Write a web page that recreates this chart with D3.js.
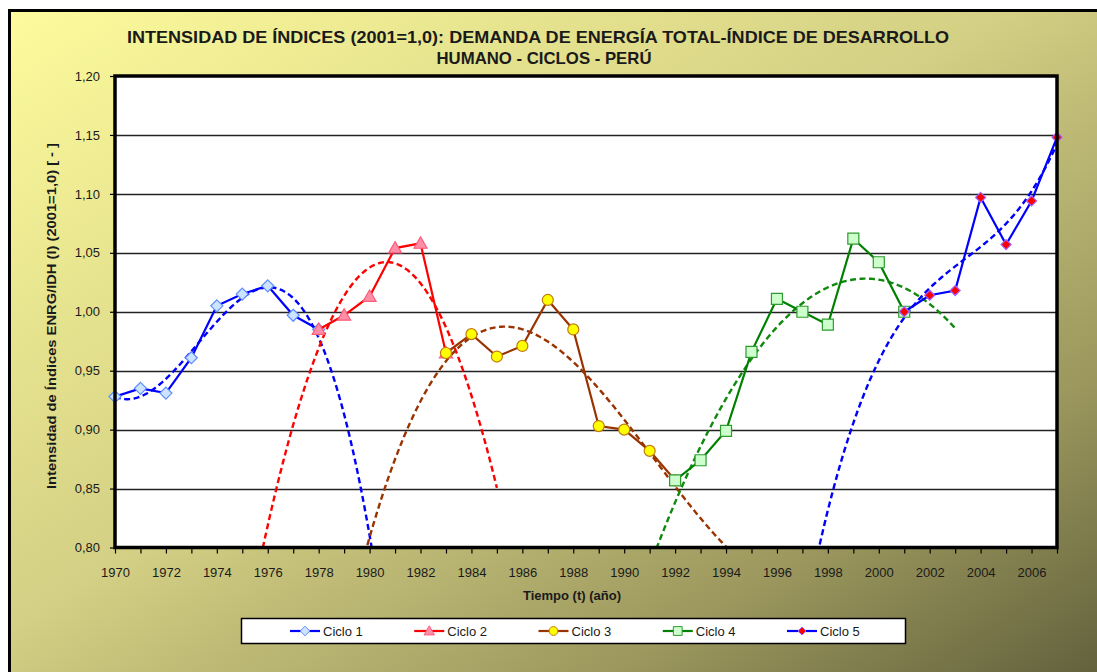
<!DOCTYPE html>
<html>
<head>
<meta charset="utf-8">
<script src="https://cdn.jsdelivr.net/npm/d3@7"></script>
<style>
  body { margin: 0; background: #fff; }
  svg { display: block; }
  text { font-family: "Liberation Sans", Arial, sans-serif; fill: #1a1a1a; }
</style>
</head>
<body>
<svg id="chart" width="1097" height="672"></svg>
<script>
// ---- data ----
const titleLines = [
  'INTENSIDAD DE ÍNDICES (2001=1,0): DEMANDA DE ENERGÍA TOTAL-ÍNDICE DE DESARROLLO',
  'HUMANO - CICLOS - PERÚ'
];
const yTitle = 'Intensidad de Índices ENRG/IDH (I) (2001=1,0) [ - ]';
const xTitle = 'Tiempo (t) (año)';

const cycleNames = ['Ciclo 1', 'Ciclo 2', 'Ciclo 3', 'Ciclo 4', 'Ciclo 5'];

const ciclo1Years = [1970, 1971, 1972, 1973, 1974, 1975, 1976, 1977, 1978];
const ciclo1Values = [0.928, 0.935, 0.931, 0.961, 1.005, 1.015, 1.022, 0.997, 0.985];

const ciclo2Years = [1978, 1979, 1980, 1981, 1982, 1983];
const ciclo2Values = [0.985, 0.997, 1.013, 1.054, 1.058, 0.965];

const ciclo3Years = [1983, 1984, 1985, 1986, 1987, 1988, 1989, 1990, 1991, 1992];
const ciclo3Values = [0.965, 0.981, 0.962, 0.971, 1.010, 0.985, 0.903, 0.900, 0.882, 0.857];

const ciclo4Years = [1992, 1993, 1994, 1995, 1996, 1997, 1998, 1999, 2000, 2001];
const ciclo4Values = [0.857, 0.874, 0.899, 0.966, 1.011, 1.000, 0.989, 1.062, 1.042, 1.000];

const ciclo5Years = [2001, 2002, 2003, 2004, 2005, 2006, 2007];
const ciclo5Values = [1.000, 1.014, 1.018, 1.097, 1.057, 1.094, 1.148];

// polynomial trendlines (order, backward/forward extent in years)
const trendOrders = [3, 2, 3, 2, 3];
const trendFrom = [1970, 1975, 1979, 1990, 1997];
const trendTo = [1981, 1985, 1994, 2003, 2008];

const yTicks = [0.80, 0.85, 0.90, 0.95, 1.00, 1.05, 1.10, 1.15, 1.20];
const xTicks = d3.range(1970, 2008);

// ---- styles ----
const LINE_COLORS = ['#0000ff', '#ff0000', '#993300', '#008000', '#0000ff'];
const TREND_COLORS = ['#0000ff', '#ff0000', '#993300', '#0f8a0f', '#0000ff'];
const MARK_FILL = ['#cce4ff', '#ff8fa8', '#ffff00', '#ccffcc', '#ff0000'];
const MARK_STROKE = ['#5c8cff', '#ff5a78', '#c07a10', '#2f9a2f', '#a060ff'];
const MARK_SHAPE = ['diamond', 'triangle', 'circle', 'square', 'diamond'];
const MARK_SIZE = [6, 6.5, 5.5, 5.5, 5];

const series = cycleNames.map((name, i) => {
  const ys = [ciclo1Years, ciclo2Years, ciclo3Years, ciclo4Years, ciclo5Years][i];
  const vs = [ciclo1Values, ciclo2Values, ciclo3Values, ciclo4Values, ciclo5Values][i];
  return { name, idx: i, points: ys.map((y, j) => ({ year: y, value: vs[j] })) };
});

const svg = d3.select('#chart');
const defs = svg.append('defs');

const grad = defs.append('linearGradient')
  .attr('id', 'bg')
  .attr('x1', 0).attr('y1', 0).attr('x2', 1).attr('y2', 1);
grad.append('stop').attr('offset', '0').attr('stop-color', '#fdfb9c');
grad.append('stop').attr('offset', '0.45').attr('stop-color', '#d3cf84');
grad.append('stop').attr('offset', '0.75').attr('stop-color', '#9c985e');
grad.append('stop').attr('offset', '1').attr('stop-color', '#5b5a38');

// outer chart area
svg.append('rect')
  .attr('x', 9.5).attr('y', 10.5)
  .attr('width', 1110).attr('height', 690)
  .attr('fill', 'url(#bg)')
  .attr('stroke', '#000')
  .attr('stroke-width', 3);

const plotLeft = 115, plotRight = 1057, plotTop = 76, plotBottom = 547.5;

const x = d3.scaleLinear().domain([1970, 2007]).range([plotLeft, plotRight]);
const y = d3.scaleLinear().domain([0.80, 1.20]).range([plotBottom, plotTop]);

defs.append('clipPath').attr('id', 'plotClip')
  .append('rect')
  .attr('x', plotLeft).attr('y', plotTop)
  .attr('width', plotRight - plotLeft).attr('height', plotBottom - plotTop);

// plot background
svg.append('rect')
  .attr('x', plotLeft).attr('y', plotTop)
  .attr('width', plotRight - plotLeft).attr('height', plotBottom - plotTop)
  .attr('fill', '#fff');

// gridlines
svg.append('g')
  .selectAll('line')
  .data(yTicks.slice(1, -1))
  .enter()
  .append('line')
  .attr('x1', plotLeft).attr('x2', plotRight)
  .attr('y1', d => Math.round(y(d)) + 0.5)
  .attr('y2', d => Math.round(y(d)) + 0.5)
  .attr('stroke', '#222')
  .attr('stroke-width', 1.3);

// axes
const fmt = d => d3.format('.2f')(d).replace('.', ',');

const yAxis = svg.append('g')
  .attr('transform', `translate(${plotLeft},0)`)
  .call(d3.axisLeft(y).tickValues(yTicks).tickSize(5).tickPadding(10).tickFormat(fmt));
yAxis.select('.domain').remove();
yAxis.selectAll('.tick line').attr('stroke', '#000').attr('stroke-width', 1.2);
yAxis.selectAll('.tick text')
  .attr('font-size', 13).attr('fill', '#1a1a1a')
  .attr('font-family', '"Liberation Sans", Arial, sans-serif');

const xAxis = svg.append('g')
  .attr('transform', `translate(0,${plotBottom})`)
  .call(d3.axisBottom(x).tickValues(xTicks).tickSize(6).tickPadding(14)
    .tickFormat(d => d % 2 === 0 ? String(d) : ''));
xAxis.select('.domain').remove();
xAxis.selectAll('.tick line').attr('stroke', '#000').attr('stroke-width', 1.2);
xAxis.selectAll('.tick text')
  .attr('font-size', 13).attr('fill', '#1a1a1a')
  .attr('font-family', '"Liberation Sans", Arial, sans-serif');

// least squares polynomial fit (x centred for conditioning)
function polyfit(points, order) {
  const x0 = d3.mean(points, p => p.year);
  const n = order + 1;
  const A = d3.range(n).map(() => new Array(n).fill(0));
  const b = new Array(n).fill(0);
  points.forEach(p => {
    const t = p.year - x0;
    for (let r = 0; r < n; r++) {
      b[r] += p.value * Math.pow(t, r);
      for (let c = 0; c < n; c++) A[r][c] += Math.pow(t, r + c);
    }
  });
  for (let k = 0; k < n; k++) {
    for (let r = k + 1; r < n; r++) {
      const f = A[r][k] / A[k][k];
      for (let c = k; c < n; c++) A[r][c] -= f * A[k][c];
      b[r] -= f * b[k];
    }
  }
  const coef = new Array(n).fill(0);
  for (let r = n - 1; r >= 0; r--) {
    let s = b[r];
    for (let c = r + 1; c < n; c++) s -= A[r][c] * coef[c];
    coef[r] = s / A[r][r];
  }
  return t => coef.reduce((acc, a, k) => acc + a * Math.pow(t - x0, k), 0);
}

const line = d3.line().x(d => x(d.year)).y(d => y(d.value));
const trendLine = d3.line().x(d => x(d[0])).y(d => y(d[1]));

function markerPath(shape, s) {
  if (shape === 'diamond') return `M0,${-s}L${s},0L0,${s}L${-s},0Z`;
  if (shape === 'triangle') return `M0,${-s}L${s},${s * 0.75}L${-s},${s * 0.75}Z`;
  if (shape === 'square') return `M${-s},${-s}H${s}V${s}H${-s}Z`;
  return d3.symbol(d3.symbolCircle, Math.PI * s * s)();
}

const plot = svg.append('g');
const trends = plot.append('g').attr('clip-path', 'url(#plotClip)');

series.forEach(s => {
  const i = s.idx;
  const f = polyfit(s.points, trendOrders[i]);
  const samples = d3.range(trendFrom[i], trendTo[i] + 1e-6, 0.05).map(t => [t, f(t)]);
  trends.append('path')
    .attr('d', trendLine(samples))
    .attr('fill', 'none')
    .attr('stroke', TREND_COLORS[i])
    .attr('stroke-width', 2.4)
    .attr('stroke-dasharray', '6,3.5');
});

series.forEach(s => {
  const i = s.idx;
  const g = plot.append('g');
  g.append('path')
    .attr('d', line(s.points))
    .attr('fill', 'none')
    .attr('stroke', LINE_COLORS[i])
    .attr('stroke-width', 2.2);
  g.selectAll('.mark')
    .data(s.points)
    .enter()
    .append('path')
    .attr('class', 'mark')
    .attr('transform', d => `translate(${x(d.year)},${y(d.value)})`)
    .attr('d', markerPath(MARK_SHAPE[i], MARK_SIZE[i]))
    .attr('fill', MARK_FILL[i])
    .attr('stroke', MARK_STROKE[i])
    .attr('stroke-width', 1.2);
});

// plot border
svg.append('rect')
  .attr('x', plotLeft).attr('y', plotTop)
  .attr('width', plotRight - plotLeft).attr('height', plotBottom - plotTop)
  .attr('fill', 'none')
  .attr('stroke', '#000')
  .attr('stroke-width', 3.5);

// titles
const title = svg.append('g');
title.append('text')
  .attr('x', 538).attr('y', 43)
  .attr('text-anchor', 'middle')
  .attr('font-size', 17).attr('font-weight', 'bold')
  .attr('textLength', 822).attr('lengthAdjust', 'spacingAndGlyphs')
  .text(titleLines[0]);
title.append('text')
  .attr('x', 544).attr('y', 64)
  .attr('text-anchor', 'middle')
  .attr('font-size', 17).attr('font-weight', 'bold')
  .attr('textLength', 215).attr('lengthAdjust', 'spacingAndGlyphs')
  .text(titleLines[1]);

svg.append('text')
  .attr('transform', 'translate(56,316) rotate(-90)')
  .attr('text-anchor', 'middle')
  .attr('font-size', 12.5).attr('font-weight', 'bold')
  .attr('textLength', 346).attr('lengthAdjust', 'spacingAndGlyphs')
  .text(yTitle);

svg.append('text')
  .attr('x', 572).attr('y', 600)
  .attr('text-anchor', 'middle')
  .attr('font-size', 13).attr('font-weight', 'bold')
  .text(xTitle);

// legend
const legend = svg.append('g');
legend.append('rect')
  .attr('x', 241.5).attr('y', 618.5)
  .attr('width', 664).attr('height', 25)
  .attr('fill', '#fff')
  .attr('stroke', '#000')
  .attr('stroke-width', 1.5);

const legendX = d3.scalePoint().domain(cycleNames).range([290, 787]);
const item = legend.selectAll('.item')
  .data(series)
  .enter()
  .append('g')
  .attr('class', 'item')
  .attr('transform', d => `translate(${legendX(d.name)},631)`);
item.append('line')
  .attr('x1', 0).attr('x2', 30)
  .attr('stroke', d => LINE_COLORS[d.idx])
  .attr('stroke-width', 2.2);
item.append('path')
  .attr('transform', 'translate(15,0)')
  .attr('d', d => markerPath(MARK_SHAPE[d.idx], MARK_SIZE[d.idx] * 0.8))
  .attr('fill', d => MARK_FILL[d.idx])
  .attr('stroke', d => MARK_STROKE[d.idx])
  .attr('stroke-width', 1);
item.append('text')
  .attr('x', 33).attr('y', 5)
  .attr('font-size', 13)
  .text(d => d.name);
</script>
</body>
</html>
